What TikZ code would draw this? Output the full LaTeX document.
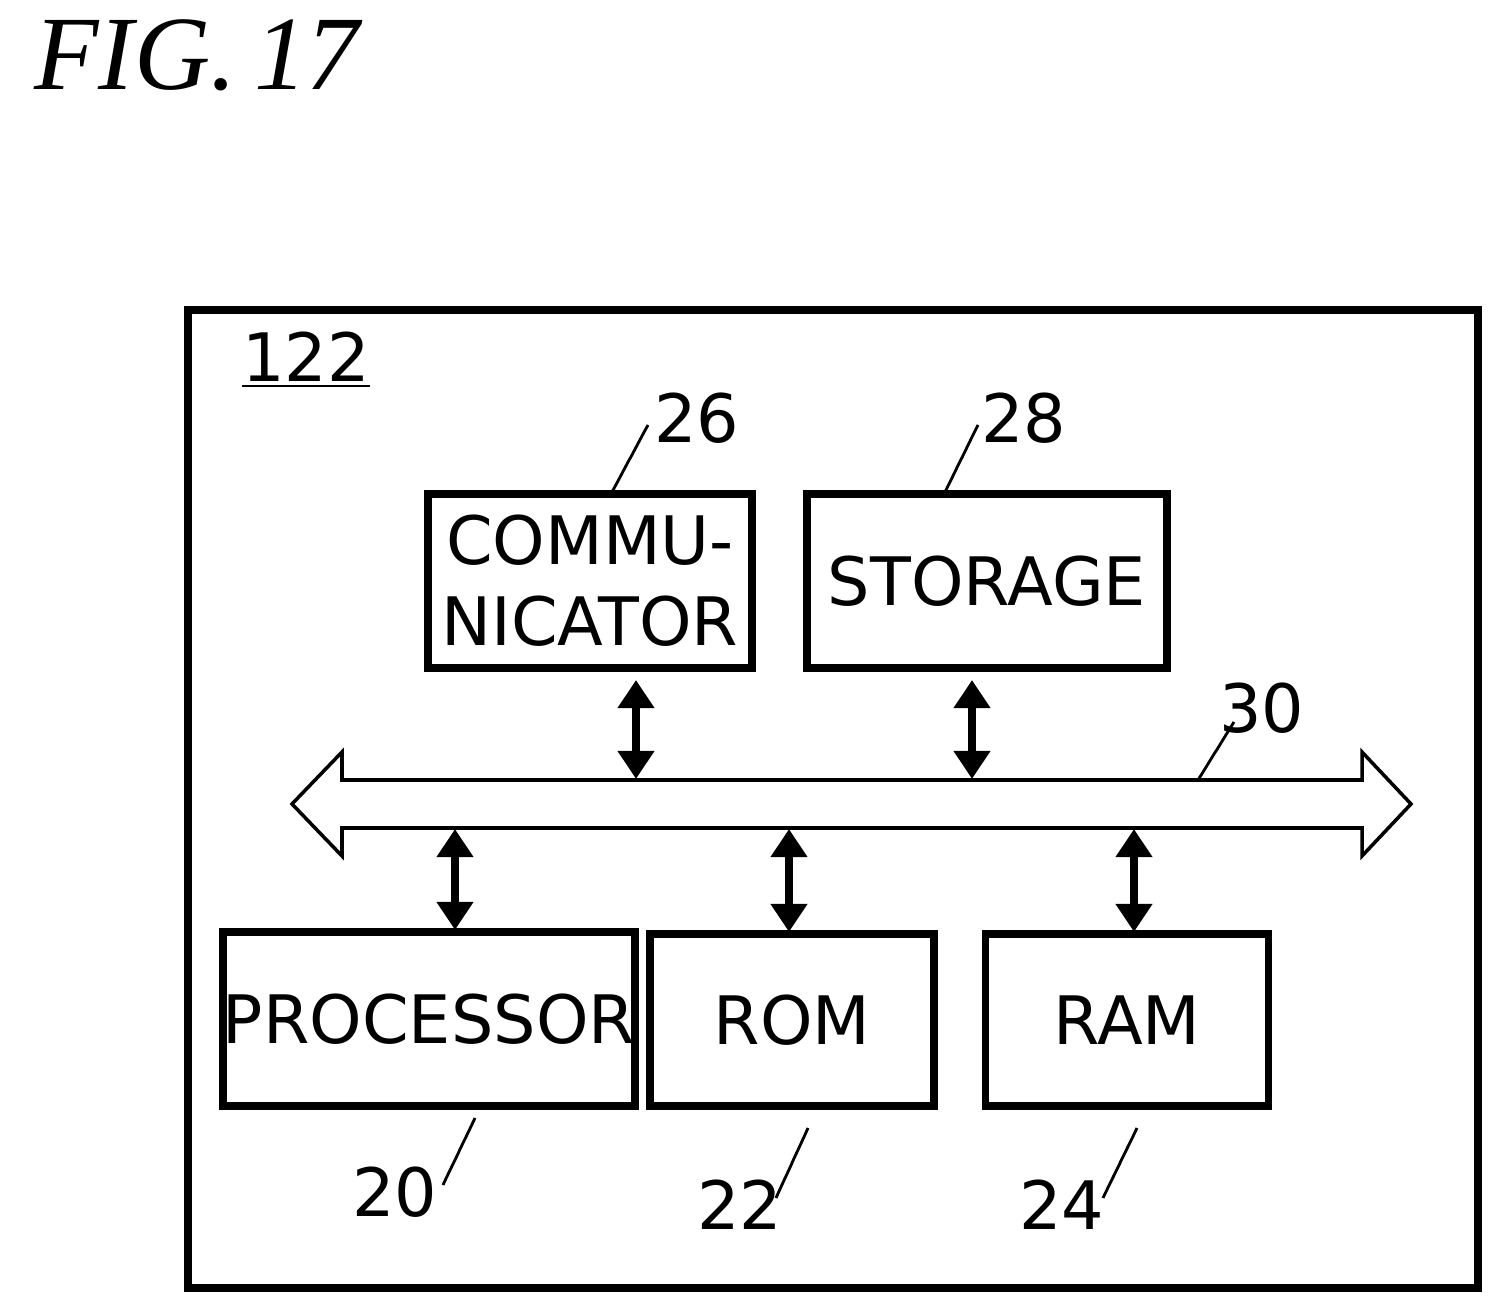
\documentclass[tikz,border=0pt]{standalone}
\usepackage{fontspec}
\setmainfont{DejaVu Sans}
\newfontfamily\figfont{Liberation Serif}
\usetikzlibrary{arrows.meta,positioning}

\tikzset{
  blk/.style={draw,line width=2.2pt,inner sep=0pt,align=center,font=\fontsize{19}{23}\selectfont},
  num/.style={font=\fontsize{19}{23}\selectfont,inner sep=0pt},
  link/.style={line width=2pt,{Triangle[width=10pt,length=8pt]}-{Triangle[width=10pt,length=8pt]}},
  lead/.style={line width=0.8pt}
}
\newcommand{\squig}[2]{\draw[lead] (#1) .. controls ($(#1)!0.2!(#2)+(0.25,0)$) and ($(#1)!0.5!(#2)+(-0.25,0)$) .. ($(#1)!0.5!(#2)$) .. controls ($(#1)!0.5!(#2)+(0.25,0)$) and ($(#1)!0.8!(#2)+(-0.25,0)$) .. (#2);}
\usetikzlibrary{calc}

\begin{document}
\begin{tikzpicture}[x=0.01cm,y=-0.01cm]
\useasboundingbox (0,0) rectangle (1502,1313);
\node[anchor=west,font=\figfont\itshape\fontsize{30}{34}\selectfont] (fig) at (22,55) {FIG.\,17};
\draw[line width=2.2pt] (188,310) rectangle (1478,1288);
\node[num] (lbl) at (306,360) {\underline{122}};

% blocks
\node[blk,minimum width=3.24cm,minimum height=1.74cm] (comm) at (590,581) {COMMU-\\NICATOR};
\node[blk,minimum width=3.60cm,minimum height=1.74cm] (stor) at (987,581) {STORAGE};
\node[blk,minimum width=3.42cm,minimum height=1.74cm] (proc) at (429,1019) {PROCESSOR};
\node[blk,minimum width=2.84cm,minimum height=1.72cm] (rom) at (792,1020) {ROM};
\node[blk,minimum width=2.83cm,minimum height=1.72cm] (ram) at (1127,1020) {RAM};

% bus
\draw[line width=1pt,fill=white] (292,804) -- (342,752) -- (342,780) -- (1362,780) -- (1362,752)
  -- (1411,804) -- (1362,856) -- (1362,828) -- (342,828) -- (342,856) -- cycle;
\coordinate (bt1) at (636,779);
\coordinate (bt2) at (972,779);
\coordinate (bb1) at (455,829);
\coordinate (bb2) at (789,829);
\coordinate (bb3) at (1134,829);
\draw[link] (636,680) -- (bt1);
\draw[link] (972,680) -- (bt2);
\draw[link] (bb1) -- (455,930);
\draw[link] (bb2) -- (789,932);
\draw[link] (bb3) -- (1134,932);

% reference numerals
\node[num] (n26) at (697,418) {26};
\node[num] (n28) at (1024,418) {28};
\node[num] (n30) at (1262,708) {30};
\node[num] (n20) at (395,1192) {20};
\node[num] (n22) at (740,1205) {22};
\node[num] (n24) at (1062,1205) {24};
\squig{612,492}{648,425}
\squig{945,492}{978,425}
\squig{1198,780}{1234,722}
\squig{475,1118}{443,1185}
\squig{808,1128}{776,1198}
\squig{1137,1128}{1103,1198}
\end{tikzpicture}
\end{document}
